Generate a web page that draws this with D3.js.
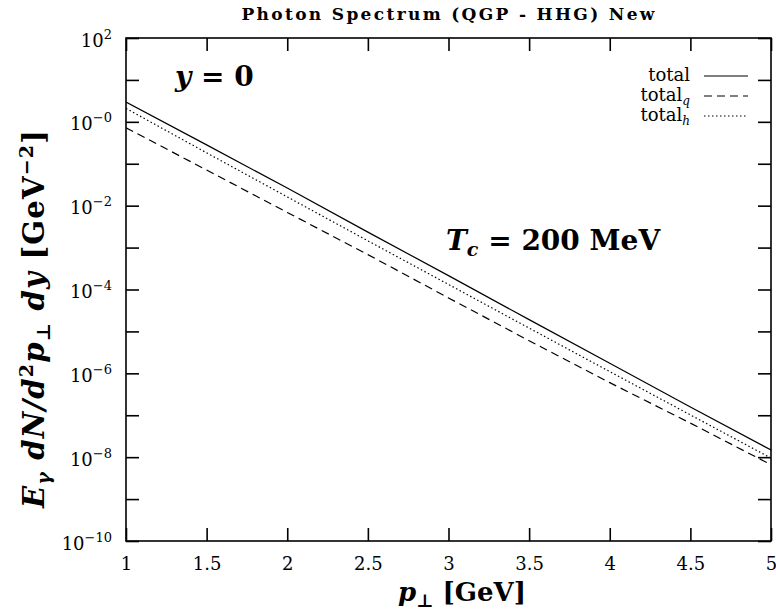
<!DOCTYPE html>
<html><head><meta charset="utf-8">
<script src="https://cdn.jsdelivr.net/npm/d3@7"></script>
<style>body{margin:0;background:#fff} svg{display:block}</style>
</head><body><svg id="c" width="776" height="616"></svg>
<script>
// ---- data ----
const pT     = [1, 1.5, 2, 2.5, 3, 3.5, 4, 4.5, 5];
const total  = [2.95, 0.282, 0.0263, 2.34e-3, 2.14e-4, 1.91e-5, 1.74e-6, 1.58e-7, 1.48e-8];
const totalQ = [0.724, 0.0708, 6.9e-3, 6.8e-4, 6.3e-5, 6.0e-6, 6.0e-7, 6.5e-8, 6.6e-9];
const totalH = [2.09, 0.182, 0.0162, 1.45e-3, 1.32e-4, 1.20e-5, 1.10e-6, 1.02e-7, 9.5e-9];
const seriesNames = ["total", "total_q", "total_h"];
const xTicks = [1, 1.5, 2, 2.5, 3, 3.5, 4, 4.5, 5];
const xTickLabels = ["1", "1.5", "2", "2.5", "3", "3.5", "4", "4.5", "5"];
const yTicks = [1e-10, 1e-9, 1e-8, 1e-7, 1e-6, 1e-5, 1e-4, 1e-3, 1e-2, 1e-1, 1, 10, 100];
const yTickExp = ["−10", "", "−8", "", "−6", "", "−4", "", "−2", "", "−0", "", "2"];
const titleText = "Photon Spectrum (QGP - HHG) New";

// ---- layout ----
const L = 126, R = 771, T = 38, B = 541;
const svg = d3.select("#c");
const serif = "'DejaVu Serif', 'Liberation Serif', serif";
const x = d3.scaleLinear().domain([1, 5]).range([L, R]);
const y = d3.scaleLog().domain([1e-10, 1e2]).range([B, T]);

// axes
const gx = svg.append("g").attr("transform", `translate(0,${B})`)
  .call(d3.axisBottom(x).tickValues(xTicks).tickSize(-13).tickPadding(16)
    .tickFormat((d, i) => xTickLabels[i]));
const gxt = svg.append("g").attr("transform", `translate(0,${T})`)
  .call(d3.axisTop(x).tickValues(xTicks).tickSize(-13).tickFormat(""));
const gy = svg.append("g").attr("transform", `translate(${L},0)`)
  .call(d3.axisLeft(y).tickValues(yTicks).tickSize(-13).tickPadding(14).tickFormat(""));
const gyr = svg.append("g").attr("transform", `translate(${R},0)`)
  .call(d3.axisRight(y).tickValues(yTicks).tickSize(-13).tickFormat(""));
[gx, gxt, gy, gyr].forEach(g => {
  g.select(".domain").remove();
  g.selectAll(".tick line").attr("stroke", "#000").attr("stroke-width", 1.6);
  g.selectAll("text").attr("font-family", serif).attr("font-size", 18).attr("fill", "#000");
});
// y tick labels with superscripts
gy.selectAll(".tick text").each(function(d, i) {
  const t = d3.select(this);
  if (!yTickExp[i]) { t.remove(); return; }
  t.text(null).attr("dy", "0.45em");
  t.append("tspan").text("10");
  t.append("tspan").attr("font-size", 13).attr("dy", -8).text(yTickExp[i]);
});

// frame
svg.append("rect").attr("x", L).attr("y", T).attr("width", R - L).attr("height", B - T)
  .attr("fill", "none").attr("stroke", "#000").attr("stroke-width", 1.6);

// lines
const line = d3.line().x(d => x(d[0])).y(d => y(d[1]));
const styles = [
  { data: total,  dash: null },
  { data: totalQ, dash: "8,5" },
  { data: totalH, dash: "1.5,2.5" }
];
svg.append("clipPath").attr("id", "cp").append("rect")
  .attr("x", L).attr("y", T).attr("width", R - L).attr("height", B - T);
styles.forEach(s => {
  svg.append("path").attr("clip-path", "url(#cp)")
    .datum(pT.map((p, i) => [p, s.data[i]]))
    .attr("d", line).attr("fill", "none").attr("stroke", "#000")
    .attr("stroke-width", 1.2).attr("stroke-dasharray", s.dash);
});

// legend
const legY = [76, 96, 116];
seriesNames.forEach((n, i) => {
  const t = svg.append("text").attr("x", 690).attr("y", legY[i] + 5)
    .attr("text-anchor", "end").attr("font-family", serif).attr("font-size", 18);
  const parts = n.split("_");
  t.append("tspan").text(parts[0]);
  if (parts[1]) t.append("tspan").attr("font-size", 12).attr("font-style", "italic").attr("dy", 4).text(parts[1]);
  svg.append("line").attr("x1", 704).attr("x2", 748).attr("y1", legY[i]).attr("y2", legY[i])
    .attr("stroke", "#000").attr("stroke-width", 1.2).attr("stroke-dasharray", styles[i].dash);
});

// title
svg.append("text").attr("x", 448).attr("y", 20).attr("text-anchor", "middle")
  .attr("font-family", serif).attr("font-weight", "bold").attr("font-size", 17)
  .attr("textLength", 413).attr("lengthAdjust", "spacing").text(titleText);

// in-plot annotations
const a1 = svg.append("text").attr("x", 175).attr("y", 86).attr("font-family", serif)
  .attr("font-weight", "bold").attr("font-size", 28);
a1.append("tspan").attr("font-style", "italic").text("y");
a1.append("tspan").text(" = 0");
const a2 = svg.append("text").attr("x", 446).attr("y", 250).attr("font-family", serif)
  .attr("font-weight", "bold").attr("font-size", 28);
a2.append("tspan").attr("font-style", "italic").text("T");
a2.append("tspan").attr("font-style", "italic").attr("font-size", 19).attr("dy", 6).text("c");
a2.append("tspan").attr("dy", -6).text(" = 200 MeV");

// x axis label
const xl = svg.append("text").attr("x", 462).attr("y", 601).attr("text-anchor", "middle")
  .attr("font-family", serif).attr("font-weight", "bold").attr("font-size", 26);
xl.append("tspan").attr("font-style", "italic").text("p");
xl.append("tspan").attr("font-size", 18).attr("dy", 6).text("⊥");
xl.append("tspan").attr("dy", -6).text(" [GeV]");

// y axis label
const yl = svg.append("text").attr("transform", "translate(44,319) rotate(-90)")
  .attr("text-anchor", "middle").attr("font-family", serif).attr("font-weight", "bold").attr("font-size", 29)
  .attr("textLength", 378).attr("lengthAdjust", "spacing");
yl.append("tspan").attr("font-style", "italic").text("E");
yl.append("tspan").attr("font-style", "italic").attr("font-size", 19).attr("dy", 6).text("γ");
yl.append("tspan").attr("font-style", "italic").attr("dy", -6).text(" dN/d");
yl.append("tspan").attr("font-size", 19).attr("dy", -11).text("2");
yl.append("tspan").attr("font-style", "italic").attr("dy", 11).text("p");
yl.append("tspan").attr("font-size", 19).attr("dy", 6).text("⊥");
yl.append("tspan").attr("font-style", "italic").attr("dy", -6).text(" dy");
yl.append("tspan").text(" [GeV");
yl.append("tspan").attr("font-size", 19).attr("dy", -11).text("−2");
yl.append("tspan").attr("dy", 11).text("]");
</script></body></html>
